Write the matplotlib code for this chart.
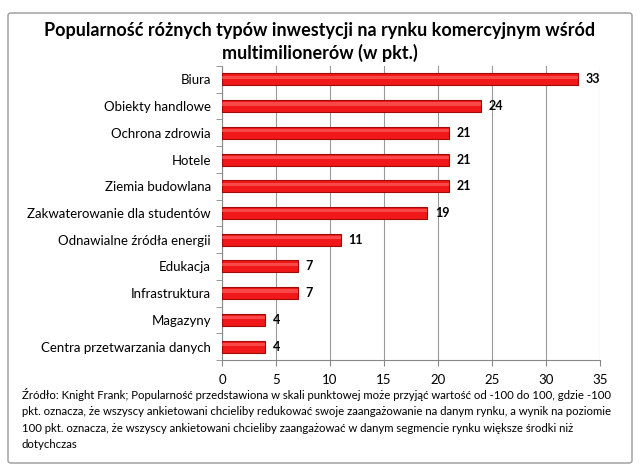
import matplotlib
matplotlib.use("Agg")
import matplotlib.pyplot as plt
from matplotlib.patches import FancyBboxPatch
import numpy as np

categories = ["Biura", "Obiekty handlowe", "Ochrona zdrowia", "Hotele", "Ziemia budowlana",
              "Zakwaterowanie dla studentów", "Odnawialne źródła energii", "Edukacja",
              "Infrastruktura", "Magazyny", "Centra przetwarzania danych"]
values = [33, 24, 21, 21, 21, 19, 11, 7, 7, 4, 4]
xticks = [0, 5, 10, 15, 20, 25, 30, 35]
title = "Popularność różnych typów inwestycji na rynku komercyjnym wśród\nmultimilionerów (w pkt.)"
footnote = ("Źródło: Knight Frank; Popularność przedstawiona w skali punktowej może przyjąć wartość od -100 do 100, gdzie -100\n"
            "pkt. oznacza, że wszyscy ankietowani chcieliby redukować swoje zaangażowanie na danym rynku, a wynik na poziomie\n"
            "100 pkt. oznacza, że wszyscy ankietowani chcieliby zaangażować w danym segmencie rynku większe środki niż\n"
            "dotychczas")

plt.rcParams['font.family'] = ['Lato', 'DejaVu Sans']

fig = plt.figure(figsize=(6.4, 4.75), dpi=100)
fig.patch.set_facecolor('white')
border = FancyBboxPatch((8/640, 12/475), 624/640, 450/475, boxstyle="round,pad=0,rounding_size=0.005",
                        transform=fig.transFigure, facecolor='none', edgecolor='#999999', lw=1, zorder=-1)
fig.patches.append(border)

ax = fig.add_axes([222/640, 1-360/475, (600-222)/640, (360-66)/475])
ax.set_facecolor('none')
n = len(categories)
y = np.arange(n)
ax.barh(y, values, height=0.45, color='#F01818', edgecolor='#A00A0A', linewidth=0.8, zorder=3)
# highlight stripe for a 3D look
ax.barh(y - 0.08, values, height=0.12, color='#FF7070', linewidth=0, zorder=4, alpha=0.55)
for yi, v in zip(y, values):
    ax.text(v + 0.7, yi, str(v), va='center', ha='left', fontsize=9, fontweight='bold', color='black')

ax.set_xlim(0, 35)
ax.set_ylim(n - 0.5, -0.5)
ax.set_xticks(xticks)
ax.set_xticklabels([str(t) for t in xticks], fontsize=9.5)
ax.set_yticks(y)
ax.set_yticklabels(categories, fontsize=9.5)
ax.tick_params(axis='y', length=0, pad=8)
ax.set_yticks(np.arange(-0.5, n, 1), minor=True)
ax.tick_params(axis='y', which='minor', length=4, color='#888888')
ax.tick_params(axis='x', length=4, color='#888888', pad=6)
ax.grid(axis='x', color='#999999', lw=0.8, zorder=0)
for s in ['top', 'right']:
    ax.spines[s].set_visible(False)
for s in ['left', 'bottom']:
    ax.spines[s].set_color('#888888')

fig.text(0.5, 1-42/475, title, ha='center', va='center', fontsize=13, fontweight='bold', linespacing=1.3)
fig.text(22/640, 1-419/475, footnote, ha='left', va='center', fontsize=8.2, linespacing=1.62)

fig.savefig("out.png", dpi=100)
